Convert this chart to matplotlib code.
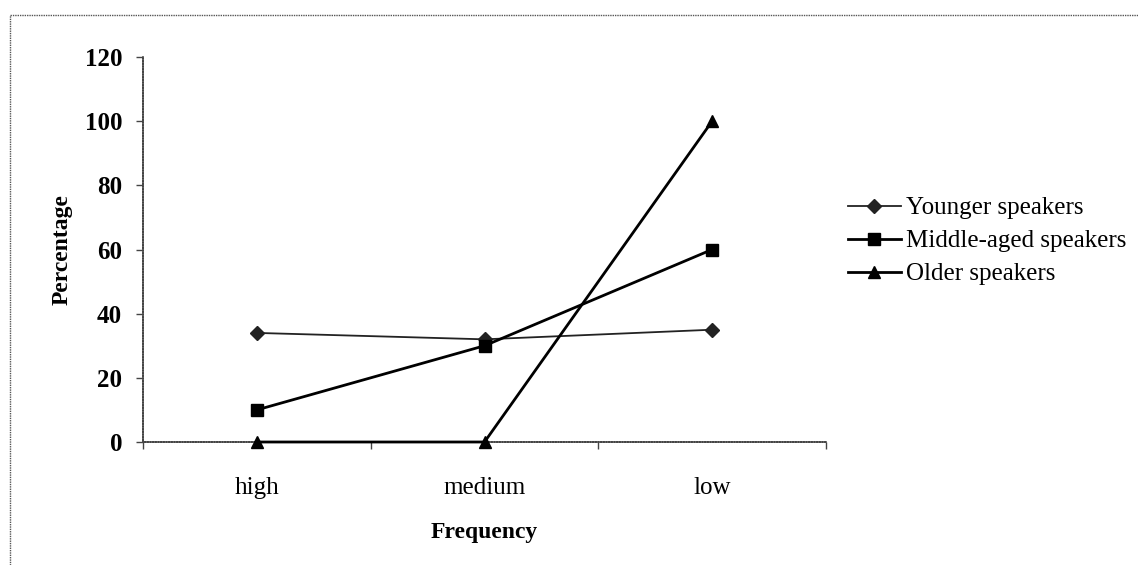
import numpy as np
import matplotlib
matplotlib.use("Agg")
import matplotlib.pyplot as plt
from matplotlib.lines import Line2D

categories = ["high", "medium", "low"]
younger = [34, 32, 35]
middle_aged = [10, 30, 60]
older = [0, 0, 100]
series_names = ["Younger speakers", "Middle-aged speakers", "Older speakers"]
y_ticks = [0, 20, 40, 60, 80, 100, 120]

plt.rcParams["font.family"] = ["Liberation Serif", "DejaVu Serif"]

fig = plt.figure(figsize=(11.38, 5.65), dpi=100)
ax = fig.add_axes([143 / 1138, 1 - 442 / 565, 683 / 1138, 385 / 565])

x = np.arange(len(categories))
ax.plot(x, younger, color="#222222", lw=1.3, marker="D", ms=7, label=series_names[0],
        clip_on=False, zorder=3)
ax.plot(x, middle_aged, color="black", lw=2.0, marker="s", ms=8, label=series_names[1],
        clip_on=False, zorder=3)
ax.plot(x, older, color="black", lw=2.0, marker="^", ms=9, label=series_names[2],
        clip_on=False, zorder=3)

ax.set_xlim(-0.5, len(categories) - 0.5)
ax.set_ylim(0, 120)
ax.set_yticks(y_ticks)
ax.set_yticklabels([str(v) for v in y_ticks], fontsize=18, fontweight="bold")

# category labels sit between the boundary ticks
ax.set_xticks(np.arange(-0.5, len(categories)), minor=False)
ax.set_xticklabels([])
ax.set_xticks(x, minor=True)
ax.set_xticklabels(categories, minor=True, fontsize=18)
ax.tick_params(axis="x", which="minor", length=0, pad=25)
ax.tick_params(axis="x", which="major", length=5, direction="out", width=1, color="#444444")
ax.tick_params(axis="y", length=5, direction="out", width=1, color="#444444", pad=10)

for side in ["top", "right"]:
    ax.spines[side].set_visible(False)
for side in ["left", "bottom"]:
    ax.spines[side].set_color("#444444")
    ax.spines[side].set_linestyle((0, (1, 0.6)))
    ax.spines[side].set_linewidth(1.2)
    ax.spines[side].set_zorder(1)

ax.set_ylabel("Percentage", fontsize=17, fontweight="bold", labelpad=9)
ax.set_xlabel("Frequency", fontsize=17, fontweight="bold", labelpad=17)

ax.legend(loc="center left", bbox_to_anchor=((848 - 143) / 683, (442 - 241) / 385),
          frameon=False, fontsize=18, handlelength=2.1, handletextpad=0.2,
          labelspacing=0.42, borderaxespad=0, borderpad=0)

# scanned page border (top and left)
fig.add_artist(Line2D([10 / 1138, 1], [1 - 15 / 565, 1 - 15 / 565],
                      color="#555555", lw=1.0, ls=(0, (1, 0.7))))
fig.add_artist(Line2D([10 / 1138, 10 / 1138], [0, 1 - 15 / 565],
                      color="#555555", lw=1.0, ls=(0, (1, 0.7))))

fig.savefig("out.png", dpi=100)
